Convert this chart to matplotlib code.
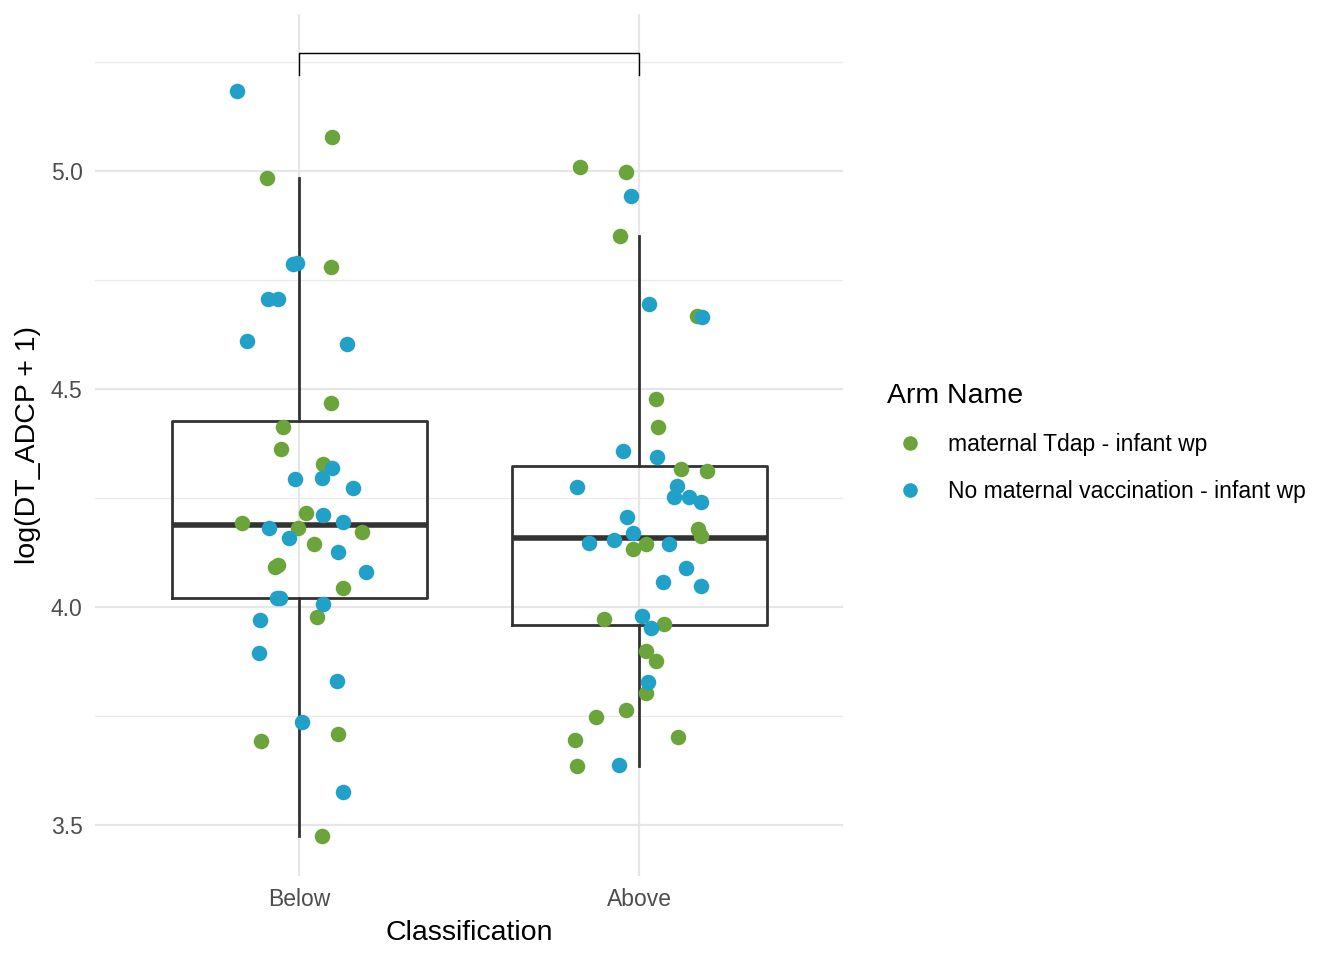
import matplotlib.pyplot as plt
import numpy as np
from matplotlib.lines import Line2D

plt.rcParams['font.family'] = ['Liberation Sans', 'DejaVu Sans']

categories = ['Below', 'Above']
arm_names = ['maternal Tdap - infant wp', 'No maternal vaccination - infant wp']

# values, with the horizontal jitter of each point
below_green = [5.078, 4.984, 4.780, 4.468, 4.413, 4.362, 4.328, 4.216, 4.193, 4.181,
               4.172, 4.144, 4.092, 4.096, 4.044, 3.977, 3.709, 3.693, 3.475]
below_green_jit = [0.097, -0.094, 0.094, 0.094, -0.047, -0.053, 0.071, 0.021, -0.168, -0.003,
                   0.185, 0.044, -0.071, -0.062, 0.129, 0.053, 0.115, -0.112, 0.068]
below_blue = [5.183, 4.787, 4.789, 4.706, 4.706, 4.610, 4.603, 4.294, 4.296, 4.319,
              4.273, 4.211, 4.195, 4.181, 4.158, 4.126, 4.080, 4.021, 4.021, 4.007,
              3.970, 3.894, 3.830, 3.736, 3.576]
below_blue_jit = [-0.182, -0.018, -0.006, -0.091, -0.062, -0.153, 0.141, -0.012, 0.068, 0.097,
                  0.159, 0.071, 0.129, -0.088, -0.029, 0.115, 0.197, -0.065, -0.056, 0.071,
                  -0.115, -0.118, 0.112, 0.009, 0.129]
above_green = [5.009, 4.998, 4.851, 4.667, 4.477, 4.413, 4.317, 4.312, 4.179, 4.163,
               4.144, 4.133, 3.972, 3.961, 3.899, 3.876, 3.803, 3.764, 3.748, 3.702,
               3.695, 3.635]
above_green_jit = [-0.174, -0.038, -0.056, 0.171, 0.050, 0.056, 0.124, 0.200, 0.174, 0.182,
                   0.021, -0.018, -0.103, 0.074, 0.021, 0.050, 0.021, -0.038, -0.126, 0.115,
                   -0.188, -0.182]
above_blue = [4.943, 4.695, 4.665, 4.358, 4.344, 4.275, 4.278, 4.252, 4.252, 4.241,
              4.206, 4.170, 4.147, 4.154, 4.144, 4.089, 4.057, 4.048, 3.979, 3.952,
              3.828, 3.638]
above_blue_jit = [-0.024, 0.029, 0.185, -0.047, 0.053, -0.182, 0.112, 0.103, 0.147, 0.182,
                  -0.035, -0.018, -0.147, -0.074, 0.088, 0.138, 0.071, 0.182, 0.009, 0.035,
                  0.026, -0.059]

green = '#6BA43B'
blue = '#22A1C8'
box_col = '#333333'

fig = plt.figure(figsize=(13.44, 9.6), dpi=100)
ax = fig.add_axes([95/1344, 1-876/960, (843-95)/1344, (876-14)/960])

below_all = below_green + below_blue
above_all = above_green + above_blue
ax.boxplot([below_all, above_all], positions=[1, 2], widths=0.75, whis=1.5,
           showfliers=False, patch_artist=False,
           boxprops=dict(color=box_col, linewidth=2.0),
           whiskerprops=dict(color=box_col, linewidth=2.0),
           capprops=dict(linewidth=0),
           medianprops=dict(color=box_col, linewidth=4.0),
           zorder=2)

ms = 125
ax.scatter(1 + np.array(below_green_jit), below_green, s=ms, color=green, lw=0, zorder=3)
ax.scatter(1 + np.array(below_blue_jit), below_blue, s=ms, color=blue, lw=0, zorder=3)
ax.scatter(2 + np.array(above_green_jit), above_green, s=ms, color=green, lw=0, zorder=3)
ax.scatter(2 + np.array(above_blue_jit), above_blue, s=ms, color=blue, lw=0, zorder=3)

# significance bracket
ax.plot([1, 1, 2, 2], [5.220, 5.271, 5.271, 5.220], color='black', lw=1.0, zorder=3)

ax.set_xlim(0.4, 2.6)
ax.set_ylim(3.383, 5.360)
ax.set_xticks([1, 2])
ax.set_xticklabels(categories)
ax.set_yticks([3.5, 4.0, 4.5, 5.0])
ax.set_yticks([3.75, 4.25, 4.75, 5.25], minor=True)
ax.set_yticklabels(['3.5', '4.0', '4.5', '5.0'])

for s in ax.spines.values():
    s.set_visible(False)
ax.grid(True, which='major', color='#E6E6E6', lw=1.6, zorder=0)
ax.grid(True, which='minor', axis='y', color='#E9E9E9', lw=0.9, zorder=0)
ax.set_axisbelow(True)
ax.tick_params(which='both', length=0, labelsize=16.5, colors='#4D4D4D', pad=9)

ax.set_xlabel('Classification', fontsize=20.5, labelpad=6)
ax.set_ylabel('log(DT_ADCP + 1)', fontsize=20.5, labelpad=7)

handles = [Line2D([], [], marker='o', ls='', color=green, markersize=10.5, mew=0),
           Line2D([], [], marker='o', ls='', color=blue, markersize=10.5, mew=0)]
leg = fig.legend(handles, arm_names, title='Arm Name', loc='upper left',
                 bbox_to_anchor=(874/1344, 1-370/960), frameon=False,
                 fontsize=16.5, title_fontsize=20.5, borderpad=0.08,
                 handlelength=1.95, handletextpad=0.7, labelspacing=1.05)
leg._legend_box.align = 'left'

fig.savefig('out.png', dpi=100)
